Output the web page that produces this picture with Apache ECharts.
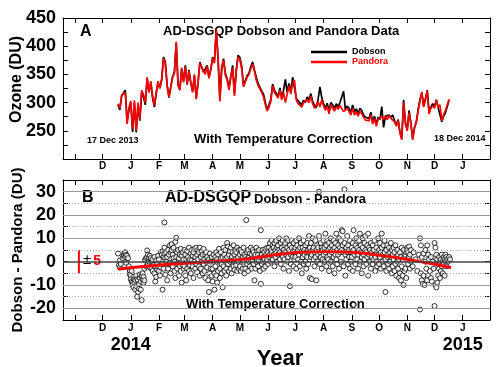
<!DOCTYPE html>
<html><head><meta charset="utf-8">
<script src="https://cdn.jsdelivr.net/npm/echarts@6/dist/echarts.min.js"></script>
<style>html,body{margin:0;padding:0;background:#fff}#c{width:496px;height:367px}</style>
</head><body><div id="c"></div><script>
// ---------- DATA ----------
// Panel A: total ozone (DU), sampled every 2 days starting 17 Dec 2013 (day -14 relative to 1 Jan 2014)
const ozoneStartDay = -14;
const ozoneStepDays = 2;
const pandoraOzone = [
 298,290,313,314,318,262,290,303,254,304,
 250,300,270,322,314,300,345,318,338,312,
 295,318,338,325,340,378,368,328,310,308,
 345,352,408,330,322,362,336,364,333,356,
 336,318,350,306,335,370,372,356,350,364,
 343,360,378,370,430,376,302,358,376,348,
 340,322,345,362,312,355,381,376,360,328,
 325,345,350,360,368,355,340,330,332,318,
 310,296,285,292,302,330,318,320,308,322,
 305,318,300,315,330,315,334,340,305,298,
 300,292,300,298,305,300,312,298,290,287,
 302,292,305,294,286,294,280,296,290,285,
 293,288,295,296,284,282,290,284,278,290,
 278,284,276,285,280,274,269,270,268,278,
 262,272,258,270,268,276,270,276,270,277,
 272,274,266,258,268,246,234,300,262,250,
 282,262,234,255,265,285,303,319,292,305,
 321,280,290,294,290,304,292,296,268,279,
 286,284,306
];
const dobsonOzone = [
 296,287,312,313,322,266,288,300,248,300,
 247,296,268,318,310,296,342,318,336,308,
 292,316,336,326,341,381,372,332,309,306,
 346,354,406,332,323,360,338,366,332,358,
 335,320,348,308,336,372,375,354,352,366,
 345,358,380,374,428,380,306,362,378,352,
 342,326,346,366,316,358,384,380,364,330,
 329,348,352,364,372,358,345,334,335,320,
 315,300,287,296,306,333,322,325,311,326,
 308,322,341,318,334,318,345,343,308,303,
 305,296,304,300,310,305,316,302,295,291,
 306,328,309,298,290,299,286,300,296,290,
 298,292,300,302,320,287,294,290,283,296,
 283,289,280,290,286,278,274,275,272,283,
 266,276,262,274,270,293,256,276,274,278,
 274,278,268,260,270,247,236,305,265,252,
 286,264,236,256,266,288,305,318,294,307,
 322,283,292,298,293,305,291,294,266,276,
 282,281,304
];
// Panel B: Dobson - Pandora differences [day since 1 Jan 2014, DU]
const diffPoints = [
 [-14,3.5],[-13,-1.5],[-12,-2.5],[-12,0.5],[-11,-1],[-9,1.5],[-8,2.5],[-7,3.8],[-7,2.8],[-6,4],[-6,2],[-5,3],[-5,-0.5],[-4,2.5],[-3,1.5],[-2,-2],[-1,-4],[-1,-5.5],
 [0,-6],[0,-7.5],[1,-4],[1,-8.5],[2,-9],[2,-10],[3,-6.5],[3,-11],[4,-7.5],[4,-9],[5,-8],[5,-12],[6,-6],[6,-10.5],[7,-15],[7,-7.5],[8,-8],[8,-13],[9,-9.5],[9,-11.5],[10,-7],[10,-5.5],[11,-8.5],[11,-12],[12,-16.5],[12,-6],[13,-7.5],[13,-5],[14,-9],[14,-6.5],[15,-3],[15,-8],
 [16,1],[16,0.5],[17,1.5],[17,-2],[18,2],[18,4.8],[19,3],[19,-1],[20,1.5],[20,0],[21,2.5],[21,-2.5],[22,0.5],[22,1.5],[23,-3],[23,0],[24,1],[24,-4],[25,-1.5],[26,2],[26,-5],[27,-2],[27,-8.5],[28,-6.5],[28,0.5],[29,-3.5],[29,-1],[30,2.5],[30,-2],
 [31,-4],[31,1],[32,-6],[33,4],[33,-2.5],[34,3],[35,-12],[35,-1],[35,4.5],[36,2],[36,-3],[37,16.8],[37,3.5],[37,6],[38,-5.5],[38,1.5],[39,4],[39,0],[40,2],[40,-8],[41,5],[41,-3],[42,3],[42,-1],[43,7],[43,-0.5],[44,4],[44,-5],[45,7.5],[45,5],[46,3],[46,-2],[47,6],[47,1.5],[48,-4],[48,0],[49,8.5],[49,-7],[50,10.2],[50,2],[51,-3],[51,4],[52,5],[52,-1],[53,1.5],[53,-6],[54,3],[54,-2],[55,5.5],[55,-4],[56,-9],[56,2.5],[57,-1.5],[57,4],[58,-3],[58,1],
 [59,5],[59,-2],[60,3],[60,-6],[61,1],[61,-8],[62,4.5],[62,-3],[63,2],[63,0],[64,6],[64,-4],[65,1],[65,-1.5],[66,3.5],[66,-5],[67,5],[67,0.5],[68,-2],[68,2.5],[69,4],[69,-7],[70,0],[70,5.5],[71,-3],[71,2],[72,6],[72,-1],[73,3],[73,-4.5],[74,5],[74,1],[75,-2],[75,4],[76,6],[76,-6],[77,2],[77,-3],[78,4.5],[78,0],[79,-5],[79,3],[80,5.5],[80,-1],[81,1],[81,-4],[82,3],[82,-7],[83,0],[83,4],[84,-2.5],[84,2],[85,-8],[86,-13],[86,1],[87,3.5],[87,-5],[88,-3],[88,0],[89,2],[89,-6],
 [90,-3],[90,-8.5],[91,0],[91,3],[92,-12],[92,-5],[93,2],[93,-2],[94,4],[94,-6],[95,1],[95,-9],[96,3],[96,-4],[97,5.5],[97,0],[98,-3],[98,-7],[99,1.5],[99,4],[100,-1],[100,-5],[101,-11],[101,2],[102,6],[102,-2],[103,3],[103,-4],[104,5],[104,1],[105,-3],[105,-6],[106,8],[106,2],[107,6.5],[107,-1],[108,3],[108,-4],[109,4.5],[109,0],[110,-3],[110,6],[111,2],[111,-5],[112,4],[112,0.5],[113,7],[113,-2],[114,3],[114,-3.5],[115,5],[115,1],[116,-1.5],[116,4],[117,6],[117,-4],[118,2],[118,0],[119,5],[119,-3],
 [120,3],[120,-2],[121,5],[121,-4],[122,1],[122,4],[123,-3],[123,2],[124,6],[124,0],[125,3],[125,-5],[126,2],[126,-3],[127,17.8],[127,1],[128,4],[128,-1],[129,5],[129,-4],[130,2],[130,0],[131,3.5],[131,-2],[132,6],[132,1],[133,-3],[133,3],[134,5],[134,0],[135,-1],[135,4],[136,-8],[136,2],[137,3],[137,-3],[138,6],[138,0],[139,1],[139,4.5],[140,-2],[140,3],[141,5],[141,0.5],[142,-4],[142,2],[143,13.5],[143,-9.5],[144,3],[144,-1],[145,5],[145,0],[146,2],[146,-3],[147,4],[147,1],[148,-2],[148,5.5],[149,3],[149,0],[150,6],[150,1],
 [151,4],[151,-1],[152,6],[152,2],[153,8],[153,3],[154,5],[154,0],[155,9],[155,4],[156,7],[156,1],[157,3],[157,6],[158,8],[158,-2],[159,5],[159,2],[160,9],[160,4],[161,6],[161,0],[162,3],[162,7],[163,10],[163,5],[164,1],[164,4],[165,8],[165,-1],[166,6],[166,3],[167,9],[167,2],[168,5],[168,-3],[169,7],[169,1],[170,4],[170,8],[171,10],[171,3],[172,6],[172,0],[173,2],[173,9],[174,-4],[174,5],[175,-10.5],[175,7],[176,3],[176,-1],[177,6],[177,9],[178,2],[178,4],[179,8],[179,-2],[180,5],[180,1],
 [181,6],[181,2],[182,9],[182,-3],[183,4],[183,7],[184,1],[184,5],[185,10],[185,3],[186,-2],[186,6],[187,8],[187,0],[188,4],[188,-5],[189,6],[189,2],[190,9],[190,-1],[191,3],[191,5],[192,7],[192,0],[193,-3],[193,4],[194,8],[194,2],[195,5],[195,-1],[196,11],[196,4],[197,-7],[197,6],[198,2],[198,8],[199,-7.5],[199,3],[200,5],[200,10],[201,1],[201,6],[202,-2],[202,4],[203,9],[203,2],[204,-8],[204,5],[205,7],[205,0],[206,3],[206,6],[207,30],[207,11],[208,4],[208,-1],[209,8],[209,2],[210,6],[210,-3],[211,5],[211,1],
 [212,9],[212,3],[213,6],[213,0],[214,12],[214,4],[215,7],[215,-2],[216,2],[216,9],[217,5],[217,1],[218,8],[218,-4],[219,3],[219,6],[220,10],[220,0],[221,4],[221,7],[222,-2],[222,5],[223,9],[223,2],[224,6],[224,-5],[225,3],[225,8],[226,12],[226,1],[227,5],[227,-1],[228,7],[228,3],[229,10],[229,-3],[230,4],[230,6],[231,9],[231,0],[232,13.5],[232,5],[233,13],[233,7],[234,-2],[234,4],[235,31],[235,8],[236,3],[236,-6],[237,6],[237,1],[238,11],[238,4],[239,-1],[239,7],[240,2],[240,5],[241,9],[241,-3],[242,4],[242,0],
 [243,6],[243,2],[244,8],[244,-4],[245,-18.5],[245,13.5],[245,5],[246,3],[247,7],[247,-1],[248,4],[248,10],[249,1],[249,6],[250,-3],[250,3],[251,9],[251,5],[252,0],[252,12],[253,4],[253,7],[254,-5],[254,2],[255,6],[255,10],[256,3],[256,-2],[257,8],[257,1],[258,5],[258,11],[259,-1],[259,4],[260,7],[260,2],[261,12],[261,-6],[262,3],[262,6],[263,0],[263,5],[264,8],[264,-3],[265,2],[265,4],[266,7],[266,-1],[267,5],[267,1],[268,3],[268,9],[269,-4],[269,2],[270,6],[270,0],[271,4],[271,-2],[272,10],[272,3],
 [273,5],[273,-1],[274,8],[274,2],[275,-3],[275,4],[276,12],[276,6],[277,0],[277,3],[278,7],[278,-2],[279,4],[279,9],[280,-13],[280,1],[281,5],[281,-4],[282,2],[282,7],[283,-1],[283,3],[284,6],[284,-3],[285,4],[285,0],[286,8],[286,2],[287,-5],[287,5],[288,3],[288,-2],[289,6],[289,1],[290,-4],[290,4],[291,7],[291,-1],[292,2],[292,-6],[293,5],[293,0],[294,-3],[294,3],[295,-7],[295,1],[296,4],[296,-5],[297,-8],[297,2],[298,-2],[298,6],[299,-6],[299,1],[300,-10],[300,5],[301,-4],[301,2],[302,3],[302,-3],[303,-7],[303,4],
 [304,6],[304,5],[305,4],[305,-1],[306,6.5],[306,2],[307,3],[307,-3],[308,5],[308,0],[310,-2],[311,4],[313,1],[315,-4],[317,3],[318,10],[318,-20.5],[319,7],[319,-5],[320,-8],[320,2],[321,-9.5],[322,-6],[322,3.5],[323,-10],[324,5],[324,0],[325,-3],[326,7],[326,-8],[327,3],[327,-6],[328,1],[329,-4],[330,-7],[330,2],[331,-8.5],[332,0],[333,-3],
 [334,8],[334,-19],[335,6],[335,-10],[336,-11],[336,3],[337,-9],[337,1],[338,-6],[338,-1],[339,2],[339,-3],[340,0],[340,-7],[341,1],[341,-4],[342,-2],[342,3],[343,0],[343,-5],[344,2],[344,-1],[345,1],[345,-6],[346,0],[346,3],[347,2],[347,-2],[348,1],[349,0],[350,2],[351,1]
];
// Smoothed fit of the differences [day, DU]
const fitPoints = [[-14,-3.1],[30,-1.5],[62,-0.6],[100,0.3],[131,1.3],[153,2.6],[183,3.9],[215,4.4],[244,4.0],[274,2.7],[305,0.9],[336,-1.2],[352,-2.6]];
// ±5 DU reference bar
const refBarDay = -57;
const refBarValues = [-5, 5];
// Month ticks (year, monthIndex) and labels
const tickMonths = [[2013,10],[2013,11],[2014,0],[2014,1],[2014,2],[2014,3],[2014,4],[2014,5],[2014,6],[2014,7],[2014,8],[2014,9],[2014,10],[2014,11],[2015,0]];
const tickLetters = ['','D','J','F','M','A','M','J','J','A','S','O','N','D','J'];
const tickYears = ['','','2014','','','','','','','','','','','','2015'];
const ozoneTicks = {min:200, max:450, step:25, labelStep:50};
const diffTicks = {min:-25, max:35, step:5, labelStep:10};
const solidGrid = [-20,-10,10,20,30];
const dottedGrid = [-15,-5,5,15,25];

// ---------- BUILD ----------
// x axis is in days since 1 Jan 2014
const DAY = 86400000, T0 = Date.UTC(2014,0,1);
const xMin = (Date.UTC(2013,9,18,12) - T0) / DAY, xMax = (Date.UTC(2015,0,31) - T0) / DAY;
const tickValues = tickMonths.map(([y,m]) => (Date.UTC(y,m,1) - T0) / DAY);
function monthLabel(v, withYear) {
  let i = -1;
  for (let k = 0; k < tickValues.length; k++) if (Math.abs(tickValues[k] - v) < 0.5) i = k;
  if (i < 0 || !tickLetters[i]) return '';
  if (withYear && tickYears[i]) return '{m|' + tickLetters[i] + '}\n{y|' + tickYears[i] + '}';
  return '{m|' + tickLetters[i] + '}';
}
const FF = 'Liberation Sans';
const pandoraData = pandoraOzone.map((v,i) => [ozoneStartDay + i*ozoneStepDays, v]);
const dobsonData = dobsonOzone.map((v,i) => [ozoneStartDay + i*ozoneStepDays, v]);
const barData = refBarValues.map(v => [refBarDay, v]);

function xAx(grid, pos, labels, withYear, extra) {
  return Object.assign({
    type:'value', gridIndex:grid, position:pos, min:xMin, max:xMax,
    axisLine:{show:true, onZero:false, lineStyle:{color:'#000', width:1}},
    axisTick:{show:true, inside:true, length:5, customValues:tickValues, lineStyle:{color:'#000', width:1}},
    axisLabel:{show:labels, customValues:tickValues, margin: withYear ? 2 : 1, color:'#000',
      formatter: v => monthLabel(v, withYear),
      rich:{m:{fontSize:10, fontWeight:'bold', fontFamily:FF, lineHeight:12, color:'#000'},
            y:{fontSize:18, fontWeight:'bold', fontFamily:FF, lineHeight:22, color:'#000'}}},
    splitLine:{show:false}
  }, extra || {});
}
function yAx(grid, pos, t, labels, extra) {
  return Object.assign({
    type:'value', gridIndex:grid, position:pos, min:t.min, max:t.max, interval:t.step,
    axisLine:{show:true, onZero:false, lineStyle:{color:'#000', width:1}},
    axisTick:{show:true, inside:true, length:5, lineStyle:{color:'#000', width:1}},
    axisLabel:{show:labels, margin:7, fontSize:18, fontWeight:'bold', fontFamily:FF, color:'#000',
      formatter: v => (v % t.labelStep === 0 && !(t.min === 200 && v === 200)) ? String(v) : ''},
    splitLine:{show:false}
  }, extra || {});
}
const gridMarkLines = [].concat(
  solidGrid.map(v => ({yAxis:v, lineStyle:{color:'#999', type:'solid', width:1}})),
  dottedGrid.map(v => ({yAxis:v, lineStyle:{color:'#aaa', type:[1,2], width:1}})),
  [{yAxis:0, lineStyle:{color:'#444', type:'solid', width:1.5}}]
);

const chart = echarts.init(document.getElementById('c'), null, {renderer:'canvas'});
chart.setOption({
  animation:false,
  backgroundColor:'#fff',
  textStyle:{fontFamily:FF},
  grid:[
    {left:63, top:18, width:427, height:141, containLabel:false, outerBoundsMode:'none'},
    {left:63, top:180, width:427, height:140, containLabel:false, outerBoundsMode:'none'}
  ],
  xAxis:[
    xAx(0,'bottom',true,false),
    xAx(0,'top',false,false),
    xAx(1,'bottom',true,true,{name:'Year', nameLocation:'middle', nameGap:28, nameMoveOverlap:false,
      nameTextStyle:{fontSize:22, fontWeight:'bold', fontFamily:FF, color:'#000', padding:[0,0,0,7]}}),
    xAx(1,'top',false,false)
  ],
  yAxis:[
    yAx(0,'left',ozoneTicks,true,{name:'Ozone (DU)', nameLocation:'middle', nameGap:38, nameMoveOverlap:false,
      nameTextStyle:{fontSize:16, fontWeight:'bold', fontFamily:FF, color:'#000', padding:[0,0,0,18]}}),
    yAx(0,'right',ozoneTicks,false),
    yAx(1,'left',diffTicks,true,{name:'Dobson - Pandora (DU)', nameLocation:'middle', nameGap:38, nameMoveOverlap:false,
      nameTextStyle:{fontSize:15, fontWeight:'bold', fontFamily:FF, color:'#000'}}),
    yAx(1,'right',diffTicks,false)
  ],
  legend:{
    orient:'vertical', left:311, top:47, padding:0, itemGap:0, itemWidth:36, itemHeight:2.5, icon:'rect',
    textStyle:{fontSize:9, fontWeight:'bold', fontFamily:FF, lineHeight:10},
    data:[{name:'Dobson', textStyle:{color:'#000'}}, {name:'Pandora', textStyle:{color:'#ff0000'}}]
  },
  series:[
    {name:'Dobson', type:'line', xAxisIndex:0, yAxisIndex:0, data:dobsonData, symbol:'none',
     lineStyle:{color:'#000', width:1.7}, itemStyle:{color:'#000'}, z:2},
    {name:'Pandora', type:'line', xAxisIndex:0, yAxisIndex:0, data:pandoraData, symbol:'none',
     lineStyle:{color:'#ff0000', width:1.7}, itemStyle:{color:'#ff0000'}, z:3},
    {name:'grid', type:'line', xAxisIndex:2, yAxisIndex:2, data:[], z:1, silent:true,
     markLine:{silent:true, symbol:'none', label:{show:false}, data:gridMarkLines, animation:false}},
    {name:'diff', type:'scatter', xAxisIndex:2, yAxisIndex:2, data:diffPoints, symbol:'circle', symbolSize:5,
     itemStyle:{color:'#fff', borderColor:'#000', borderWidth:1}, z:3},
    {name:'fit', type:'line', xAxisIndex:2, yAxisIndex:2, data:fitPoints, smooth:true, symbol:'none',
     lineStyle:{color:'#ff0000', width:3}, z:4},
    {name:'bar', type:'line', xAxisIndex:2, yAxisIndex:2, data:barData, symbol:'none',
     lineStyle:{color:'#ff0000', width:2}, z:4}
  ],
  graphic:[
    {type:'text', x:80, y:32, style:{text:'A', font:'bold 16px "Liberation Sans"', fill:'#000', verticalAlign:'middle'}},
    {type:'text', x:163, y:31, style:{text:'AD-DSGQP Dobson and Pandora Data', font:'bold 13px "Liberation Sans"', fill:'#000', verticalAlign:'middle'}},
    {type:'text', x:87, y:141, style:{text:'17 Dec 2013', font:'bold 9px "Liberation Sans"', fill:'#000', verticalAlign:'middle'}},
    {type:'text', x:194, y:139, style:{text:'With Temperature Correction', font:'bold 13px "Liberation Sans"', fill:'#000', verticalAlign:'middle'}},
    {type:'text', x:434, y:139, style:{text:'18 Dec 2014', font:'bold 9px "Liberation Sans"', fill:'#000', verticalAlign:'middle'}},
    {type:'text', x:82, y:198, style:{text:'B', font:'bold 16px "Liberation Sans"', fill:'#000', verticalAlign:'middle'}},
    {type:'text', x:165, y:198, style:{text:'AD-DSGQP', font:'bold 16px "Liberation Sans"', fill:'#000', verticalAlign:'middle'}},
    {type:'text', x:254, y:199, style:{text:'Dobson - Pandora', font:'bold 13px "Liberation Sans"', fill:'#000', verticalAlign:'middle'}},
    {type:'text', x:186, y:304, style:{text:'With Temperature Correction', font:'bold 13px "Liberation Sans"', fill:'#000', verticalAlign:'middle'}},
    {type:'text', x:83, y:260, style:{text:'{pm|±}{f|5}', verticalAlign:'middle',
      rich:{pm:{fontSize:15, fontFamily:FF, fill:'#000', color:'#000'}, f:{fontSize:14, fontWeight:'bold', fontFamily:FF, fill:'#ff0000', color:'#ff0000', padding:[3,0,0,2]}}}}
  ]
});
</script></body></html>
